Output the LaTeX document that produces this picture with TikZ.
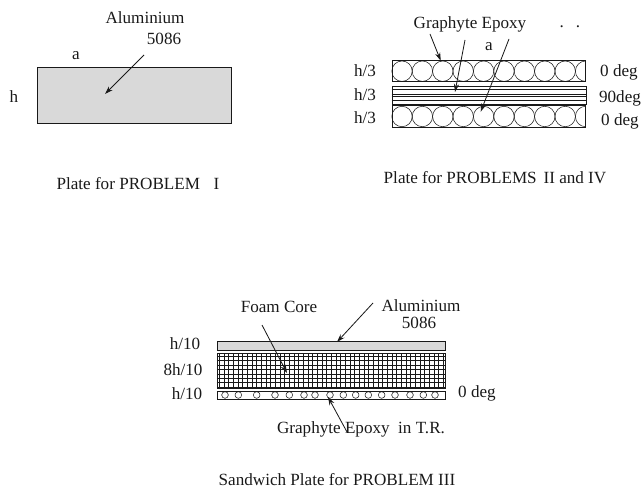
\documentclass[tikz,border=0pt]{standalone}
\usepackage{fontspec}
\setmainfont{Liberation Serif}
\usetikzlibrary{arrows.meta}
\definecolor{alugray}{RGB}{217, 217, 217}
\definecolor{inkblack}{RGB}{25, 25, 25}

\begin{document}
\begin{tikzpicture}[
    x=0.03cm, y=-0.03cm,
    lbl/.style={inner sep=0pt, text=inkblack, font=\fontsize{14.6}{16}\selectfont},
    layer/.style={rectangle, draw=inkblack, inner sep=0pt, line width=0.8pt},
    arr/.style={-{Stealth[length=7pt, width=4.5pt]}, line width=0.7pt, inkblack},
    fibre/.style={draw=inkblack, line width=0.45pt}
]
\useasboundingbox (0,0) rectangle (642,488);

% Plate I
\node[layer, fill=alugray, minimum width=5.82cm, minimum height=1.665cm] (plate) at (134.5,95.7) {};
\node[lbl] (alu1) at (145,18) {Aluminium};
\node[lbl] (alu1b) at (164,39) {5086};
\node[lbl] (a1) at (76,56) {a};
\node[lbl] (h1) at (14,97) {h};
\node[lbl] (cap1) at (138,184) {Plate for PROBLEM\hspace{0.8em}I};
\coordinate (alu1from) at (144,55);
\coordinate (alu1to) at (105,94);
\draw[arr] (alu1from) -- (alu1to);

% Plate II and IV
\node[layer, minimum width=5.79cm, minimum height=0.645cm] (ply1) at (488.5,71.2) {};
\node[layer, minimum width=5.82cm, minimum height=0.54cm] (ply2) at (489,95) {};
\node[layer, minimum width=5.79cm, minimum height=0.645cm] (ply3) at (488.5,116.5) {};
\foreach \ply/\cy in {ply1/71.2, ply3/116.5} {
  \begin{scope}
    \clip (\ply.south west) rectangle (\ply.north east);
    \foreach \k in {0,...,9}
      \draw[fibre] (402+20.4*\k,\cy) circle[radius=0.306cm];
  \end{scope}
}
\foreach \ly/\lw in {89.5/1.1pt, 94.5/0.6pt, 96.5/0.6pt, 100.5/1pt}
  \draw[inkblack, line width=\lw] (ply2.west |- 0,\ly) -- (ply2.east |- 0,\ly);

\node[lbl] (graph2) at (470,24) {Graphyte Epoxy};
\node[lbl] (a2) at (489,47) {a};
\node[lbl] (dots2) at (570,27) {.\hspace{0.7em}.};
\node[lbl] (h2a) at (365,71) {h/3};
\node[lbl] (h2b) at (365,95) {h/3};
\node[lbl] (h2c) at (365,118) {h/3};
\node[lbl] (deg2a) at (619,72) {0 deg};
\node[lbl] (deg2b) at (620,98) {90deg};
\node[lbl] (deg2c) at (620,121) {0 deg};
\node[lbl] (cap2) at (495,178) {Plate for PROBLEMS\hspace{0.4em}II and IV};
\coordinate (g2afrom) at (430,34);
\coordinate (g2ato) at (440.7,60.7);
\coordinate (g2bfrom) at (465,40);
\coordinate (g2bto) at (455,92);
\coordinate (g2cfrom) at (509,39);
\coordinate (g2cto) at (480.7,111.7);
\draw[arr] (g2afrom) -- (g2ato);
\draw[arr] (g2bfrom) -- (g2bto);
\draw[arr] (g2cfrom) -- (g2cto);

% Sandwich plate
\node[layer, fill=alugray, minimum width=6.85cm, minimum height=0.27cm] (skin) at (331.5,346.2) {};
\node[layer, minimum width=6.85cm, minimum height=1.06cm] (foam) at (331.5,371) {};
\node[layer, minimum width=6.85cm, minimum height=0.24cm] (tape) at (331.5,395) {};
\begin{scope}
  \clip (foam.south west) rectangle (foam.north east);
  \draw[fibre, line width=0.65pt, xstep=0.14cm, ystep=0.132cm] (foam.south west) grid (foam.north east);
\end{scope}
\foreach \cx in {225,265,320,375,418,462,495,540,580,617,655,695,735,780,820,855}
  \draw[fibre] (150+\cx/3,395) circle[radius=0.1cm];

\node[lbl] (foamlbl) at (279,307) {Foam Core};
\node[lbl] (alu3) at (421,306) {Aluminium};
\node[lbl] (alu3b) at (419,323) {5086};
\node[lbl] (h3a) at (185,344) {h/10};
\node[lbl] (h3b) at (183,370) {8h/10};
\node[lbl] (h3c) at (187,394) {h/10};
\node[lbl] (deg3) at (477,393) {0 deg};
\node[lbl] (graph3) at (361,429) {Graphyte Epoxy\hspace{0.5em}in T.R.};
\node[lbl] (cap3) at (337,479.5) {Sandwich Plate for PROBLEM III};
\coordinate (alu3from) at (373,303);
\coordinate (alu3to) at (337,342);
\coordinate (foamfrom) at (262,325);
\coordinate (foamto) at (287,373);
\coordinate (g3from) at (347,432);
\coordinate (g3to) at (328,397);
\draw[arr] (alu3from) -- (alu3to);
\draw[arr] (foamfrom) -- (foamto);
\draw[arr] (g3from) -- (g3to);

\end{tikzpicture}
\end{document}
